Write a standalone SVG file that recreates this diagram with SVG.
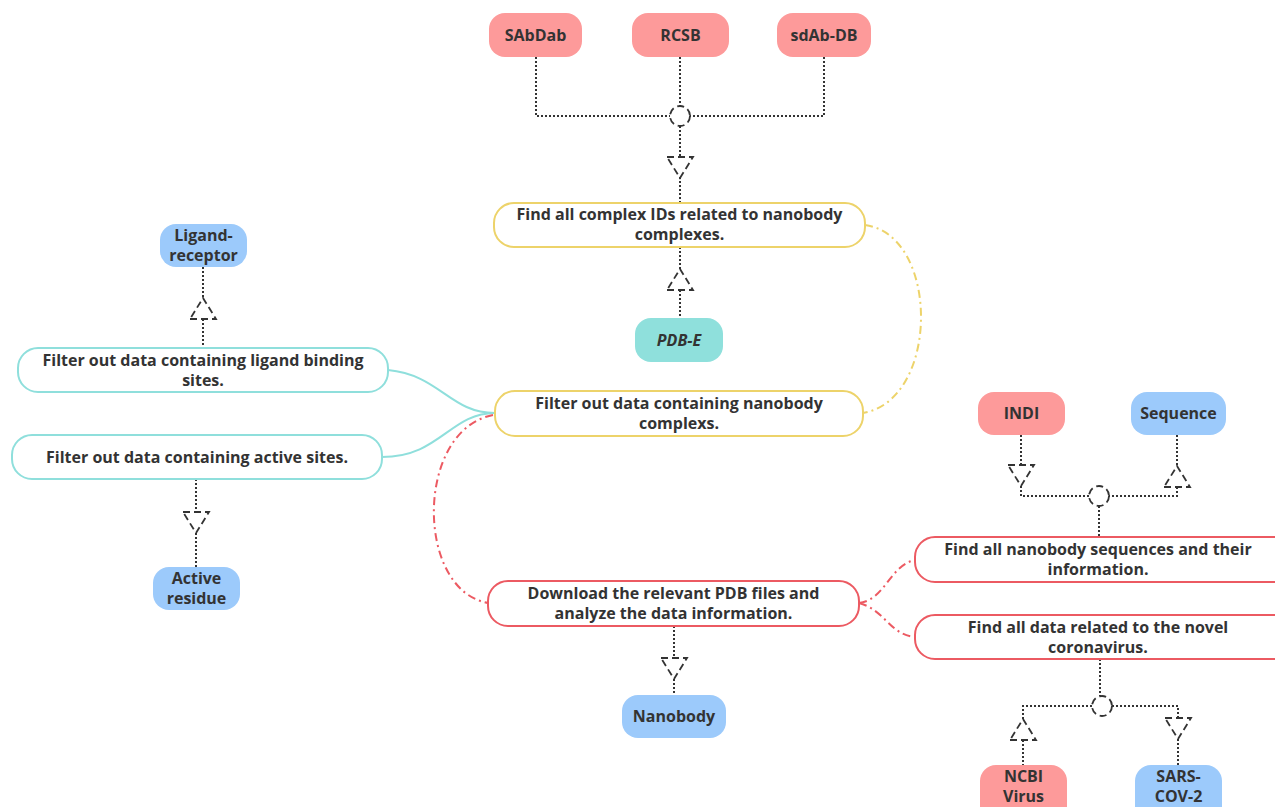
<svg xmlns="http://www.w3.org/2000/svg" width="1275" height="807" viewBox="0 0 1275 807">
<style>
text{font-family:"Open Sans","Noto Sans","Liberation Sans",sans-serif;font-weight:bold;font-size:16px;fill:#333;text-anchor:middle}
.red rect{fill:#fd9a9a}
.blue rect{fill:#9ccafb}
.teal rect{fill:#8fe0dc}
.wy{fill:#fff;stroke:#edd36a;stroke-width:2}
.wt{fill:#fff;stroke:#8fdfdc;stroke-width:2}
.wr{fill:#fff;stroke:#ec5a62;stroke-width:2}
.dot{fill:none;stroke:#333;stroke-width:2;stroke-dasharray:2 2}
.arr{fill:none;stroke:#333;stroke-width:1.8;stroke-dasharray:7 4}
.dd{fill:none;stroke-width:2;stroke-dasharray:8 4 2 4}
</style>
<g id="connectors">
<path class="dot" d="M536,57 V116 H670 M680,57 V106 M824,57 V116 H690 M680,126 V157 M680,177 V203"/>
<circle class="arr" cx="680" cy="116" r="10"/>
<path class="arr" d="M667,157 H693 L680,178 Z"/>
<path class="dot" d="M680,247 V269 M680,290 V318"/>
<path class="arr" d="M667,290 H693 L680,269 Z"/>
<path class="dot" d="M203,267 V298 M203,319 V348"/>
<path class="arr" d="M190,319 H216 L203,298 Z"/>
<path class="dot" d="M196,479 V512 M196,533 V567"/>
<path class="arr" d="M183,512 H209 L196,533 Z"/>
<path class="dot" d="M674,626 V658 M674,679 V695"/>
<path class="arr" d="M661,658 H687 L674,679 Z"/>
<path class="dot" d="M1021,435 V465 M1021,486 V496 H1089 M1177,435 V466 M1177,487 V496 H1109 M1099,506 V537"/>
<circle class="arr" cx="1099" cy="496" r="10"/>
<path class="arr" d="M1008,465 H1034 L1021,486 Z"/>
<path class="arr" d="M1164,487 H1190 L1177,466 Z"/>
<path class="dot" d="M1100,659 V696 M1092,706 H1023 V719 M1023,740 V765 M1112,706 H1178 V718 M1178,739 V765"/>
<circle class="arr" cx="1102" cy="706" r="10"/>
<path class="arr" d="M1010,740 H1036 L1023,719 Z"/>
<path class="arr" d="M1165,718 H1191 L1178,739 Z"/>
<path class="dd" stroke="#edd36a" d="M865,225 C940,235 940,400 863,413"/>
<path fill="none" stroke="#8fdfdc" stroke-width="2" d="M388,370 C440,375 450,413 495,413 M382,457 C440,457 450,413 495,413"/>
<path class="dd" stroke="#ec5a62" d="M493,415 C415,430 415,590 488,603"/>
<path class="dd" stroke="#ec5a62" d="M859,603 C885,600 890,565 915,560 M859,603 C885,610 890,635 915,637"/>
</g>
<g id="sabdab" class="red"><rect x="489" y="13" width="93" height="44" rx="16"/><text x="535.5" y="41">SAbDab</text></g>
<g id="rcsb" class="red"><rect x="632" y="13" width="97" height="44" rx="16"/><text x="680.5" y="41">RCSB</text></g>
<g id="sdab" class="red"><rect x="777" y="13" width="94" height="44" rx="16"/><text x="824" y="41">sdAb-DB</text></g>
<g id="findids"><rect class="wy" x="494" y="203" width="371" height="44" rx="20"/><text x="679.5" y="220">Find all complex IDs related to nanobody</text><text x="679.5" y="240">complexes.</text></g>
<g id="pdbe" class="teal"><rect x="635" y="318" width="88" height="44" rx="16"/><text x="679" y="346" font-style="italic">PDB-E</text></g>
<g id="filternano"><rect class="wy" x="495" y="391" width="368" height="45" rx="20"/><text x="679" y="409">Filter out data containing nanobody</text><text x="679" y="429">complexs.</text></g>
<g id="ligand" class="blue"><rect x="160" y="224" width="87" height="43" rx="16"/><text x="203.5" y="241">Ligand-</text><text x="203.5" y="261">receptor</text></g>
<g id="filterligand"><rect class="wt" x="18" y="348" width="370" height="44" rx="20"/><text x="203" y="366">Filter out data containing ligand binding</text><text x="203" y="386">sites.</text></g>
<g id="filteractive"><rect class="wt" x="12" y="435" width="370" height="44" rx="20"/><text x="197" y="463">Filter out data containing active sites.</text></g>
<g id="active" class="blue"><rect x="153" y="567" width="87" height="43" rx="16"/><text x="196.5" y="584">Active</text><text x="196.5" y="604">residue</text></g>
<g id="download"><rect class="wr" x="488" y="581" width="371" height="45" rx="20"/><text x="673.5" y="599">Download the relevant PDB files and</text><text x="673.5" y="619">analyze the data information.</text></g>
<g id="nanobody" class="blue"><rect x="622" y="695" width="104" height="43" rx="16"/><text x="674" y="722">Nanobody</text></g>
<g id="indi" class="red"><rect x="978" y="392" width="87" height="43" rx="16"/><text x="1021.5" y="419">INDI</text></g>
<g id="sequence" class="blue"><rect x="1131" y="392" width="95" height="43" rx="16"/><text x="1178.5" y="419">Sequence</text></g>
<g id="findseq"><rect class="wr" x="915" y="537" width="380" height="45" rx="20"/><text x="1098" y="555">Find all nanobody sequences and their</text><text x="1098" y="575">information.</text></g>
<g id="findcov"><rect class="wr" x="915" y="615" width="380" height="44" rx="20"/><text x="1098" y="633">Find all data related to the novel</text><text x="1098" y="653">coronavirus.</text></g>
<g id="ncbi" class="red"><rect x="980" y="765" width="87" height="60" rx="16"/><text x="1023.5" y="782">NCBI</text><text x="1023.5" y="802">Virus</text></g>
<g id="sars" class="blue"><rect x="1135" y="765" width="87" height="60" rx="16"/><text x="1178.5" y="782">SARS-</text><text x="1178.5" y="802">COV-2</text></g>
</svg>
